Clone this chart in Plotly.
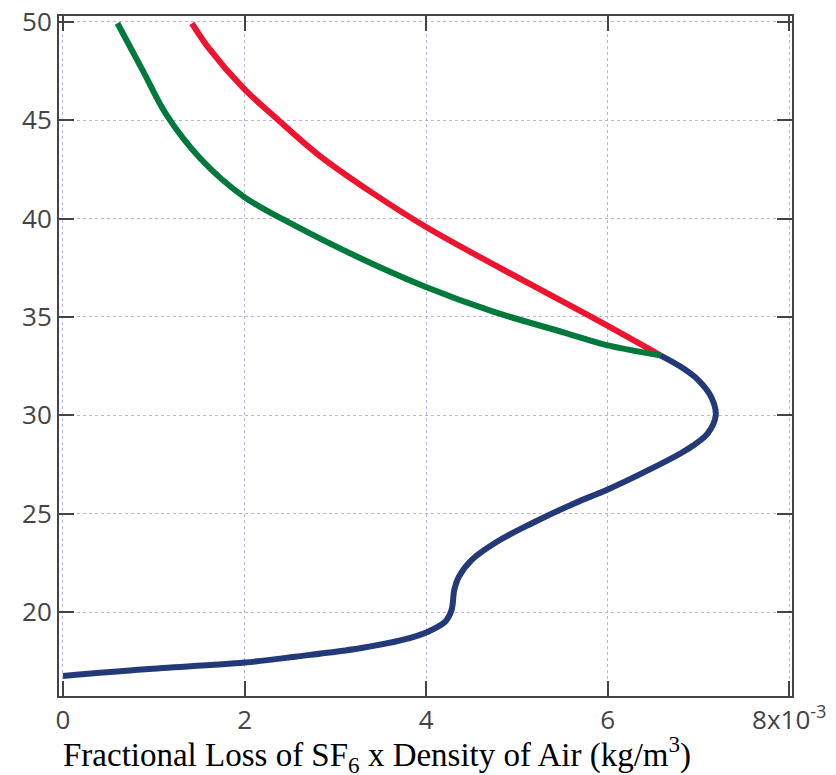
import plotly.graph_objects as go

# x values in units of 1e-3 kg/m^3, y = altitude (km)
blue_x = [0.0, 0.907, 2.0, 2.56, 3.27, 3.74, 4.02, 4.21, 4.28, 4.31, 4.36, 4.50, 4.78, 5.16, 5.63, 6.0,
          6.48, 6.86, 7.10, 7.19, 7.14, 7.0, 6.81, 6.58]
blue_y = [16.75, 17.09, 17.43, 17.73, 18.16, 18.58, 19.0, 19.51, 20.1, 21.12, 21.79, 22.64, 23.57, 24.5, 25.52, 26.23,
          27.29, 28.22, 29.07, 30.0, 30.93, 31.78, 32.45, 33.05]

green_x = [6.58, 5.99, 5.55, 4.74, 3.99, 3.27, 2.54, 1.99, 1.51, 1.14, 0.885, 0.60]
green_y = [33.05, 33.57, 34.17, 35.27, 36.54, 38.0, 39.68, 41.12, 43.07, 45.27, 47.47, 49.93]

red_x = [6.58, 5.82, 4.85, 3.99, 3.42, 2.82, 2.35, 1.99, 1.61, 1.42]
red_y = [33.05, 35.0, 37.4, 39.6, 41.27, 43.22, 45.1, 46.62, 48.64, 49.93]

x_tickvals = [0, 2, 4, 6, 8]
x_ticktext = ["0", "2", "4", "6", "8x10<sup>-3</sup>"]
y_tickvals = [20, 25, 30, 35, 40, 45, 50]

fig = go.Figure()
fig.add_trace(go.Scatter(x=red_x, y=red_y, mode="lines",
                         line=dict(color="#ee1430", width=6, shape="spline", smoothing=1.0)))
fig.add_trace(go.Scatter(x=green_x, y=green_y, mode="lines",
                         line=dict(color="#007a3c", width=6, shape="spline", smoothing=1.0)))
fig.add_trace(go.Scatter(x=blue_x, y=blue_y, mode="lines",
                         line=dict(color="#24397a", width=6, shape="spline", smoothing=1.0)))

axis_common = dict(showline=True, linecolor="#444444", linewidth=2, mirror="ticks",
                   ticks="inside", ticklen=15, tickwidth=2, tickcolor="#444444",
                   showgrid=True, gridcolor="#b4b4dc", gridwidth=1, griddash="dot",
                   zeroline=False, automargin=False,
                   tickfont=dict(family="Open Sans, Lato, sans-serif", size=26, color="#444444"))

fig.update_xaxes(range=[-0.044, 8.03], tickvals=x_tickvals, ticktext=x_ticktext, **axis_common)
fig.update_yaxes(range=[15.73, 50.3], tickvals=y_tickvals, **axis_common)

fig.add_annotation(text="Fractional Loss of SF<sub>6</sub> x Density of Air (kg/m<sup>3</sup>)",
                   xref="paper", yref="paper", x=0.003, y=-0.086,
                   xanchor="left", yanchor="middle", showarrow=False,
                   font=dict(family="Liberation Serif, Times New Roman, serif", size=33, color="#000000"))

fig.update_layout(width=836, height=775, showlegend=False,
                  margin=dict(l=59, r=44, t=16, b=79),
                  paper_bgcolor="white", plot_bgcolor="white")

fig.write_html("out.html", config={"displayModeBar": False},
               post_script="document.body.style.margin='0';")
